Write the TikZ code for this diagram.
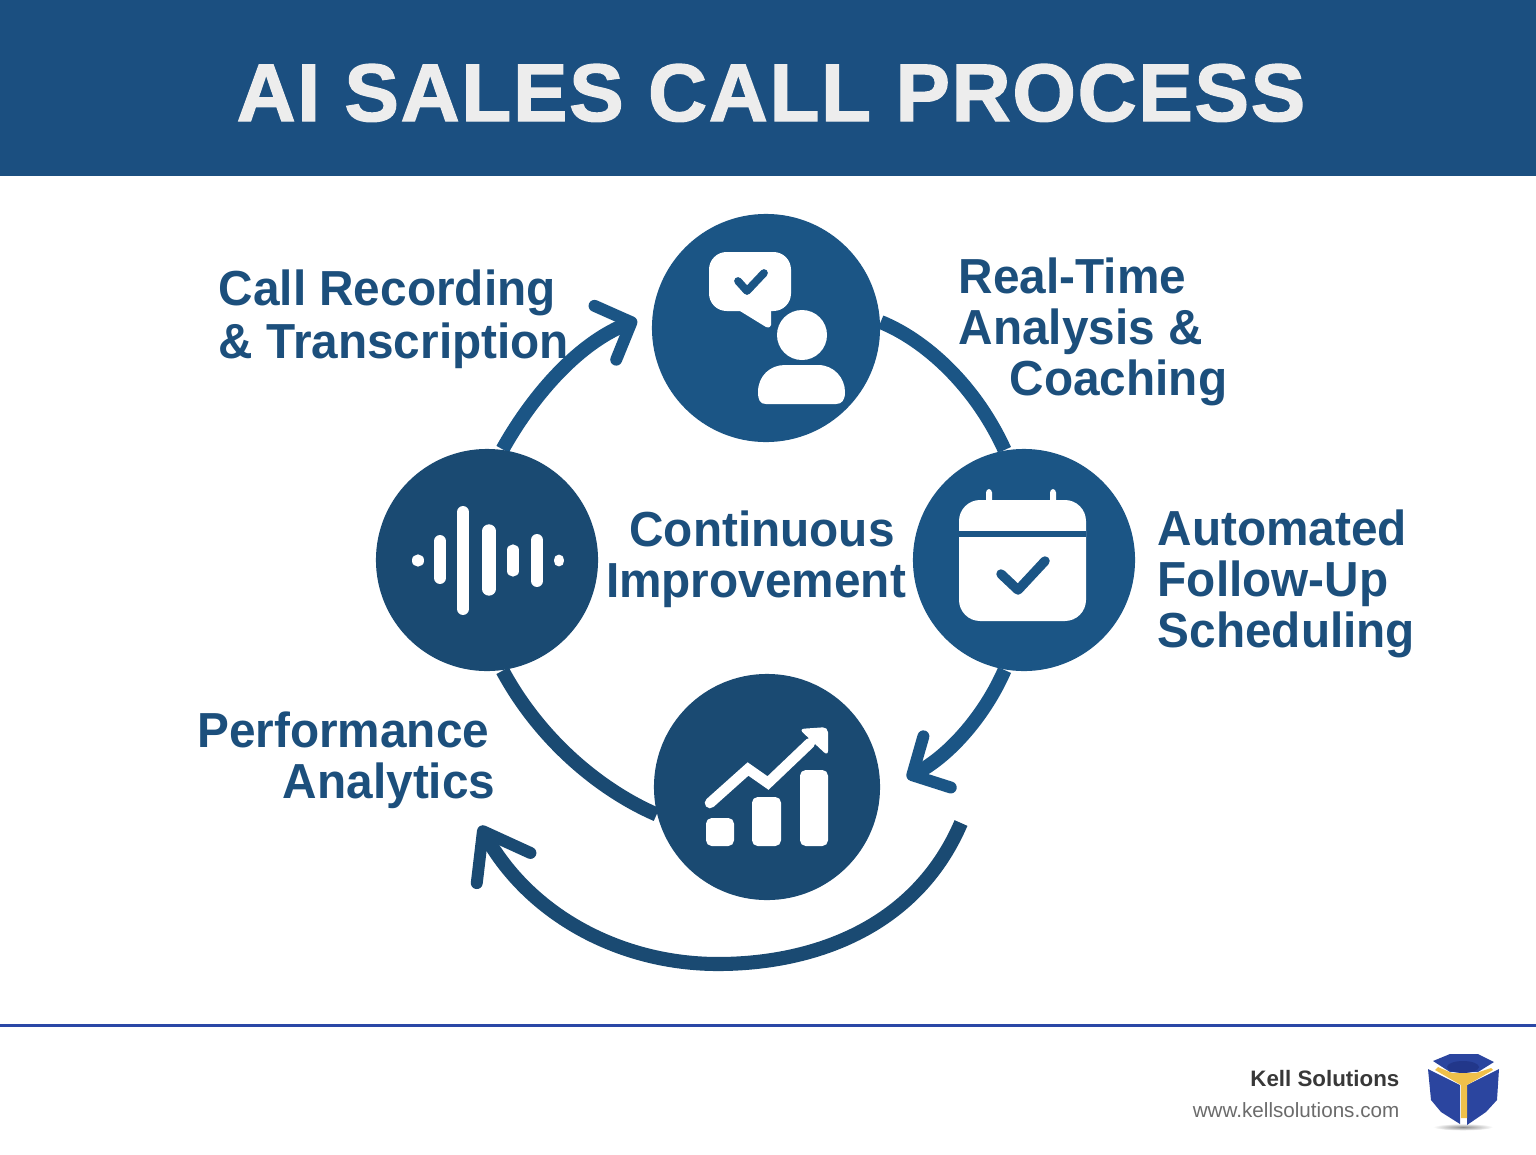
\documentclass[tikz,border=0pt]{standalone}
\usepackage{fontspec}
\setmainfont{Liberation Sans}
\newfontfamily\titlefont[LetterSpace=2.2,FakeBold=1.7]{Liberation Sans}
\newfontfamily\labelfont[FakeStretch=.97]{Liberation Sans}
\usetikzlibrary{arrows.meta,backgrounds}
\definecolor{bandblue}{HTML}{1B4F80}
\definecolor{circblue}{HTML}{1B5585}
\definecolor{circdark}{HTML}{1A4A72}
\definecolor{labelblue}{HTML}{1C4F7C}
\definecolor{rulblue}{HTML}{2A47A6}
\definecolor{cubeblue}{HTML}{2B459F}
\definecolor{cubedark}{HTML}{22378A}
\definecolor{cubegold}{HTML}{EFC04A}
\tikzset{
	stepcirc/.style={circle,inner sep=0pt},
	ring/.style={line width=4pt},
	ringarrow/.style 2 args={ring,-{Straight Barb[length=#1,width=#2,line width=3.4pt,round]}},
	steplabel/.style={font=\labelfont\bfseries\fontsize{14pt}{14.6pt}\selectfont,text=labelblue,inner sep=0pt},
	iconbar/.style={fill=white,rounded corners=1.6pt},
	iconline/.style={line width=2.2pt,line cap=round,line join=round},
}
\begin{document}
\begin{tikzpicture}[x=0.01cm,y=-0.01cm]
	\useasboundingbox (0,0) rectangle (1536,1154);
	% banner
	\fill[bandblue] (0,0) rectangle (1536,176);
	\node[font=\titlefont\bfseries\fontsize{23.2pt}{25pt}\selectfont,text=white!93!black,anchor=base,inner sep=0pt] (title) at (771,121) {AI SALES CALL PROCESS};

	% step circles
	\node[stepcirc,fill=circblue,minimum size=2.28cm] (talk) at (766,328) {};
	\node[stepcirc,fill=circblue,minimum size=2.22cm] (cal) at (1024,560) {};
	\node[stepcirc,fill=circdark,minimum size=2.26cm] (chart) at (767,787) {};
	\node[stepcirc,fill=circdark,minimum size=2.22cm] (wave) at (487,560) {};

	% ring
	\coordinate (tipa) at (907,778);
	\coordinate (tipb) at (480,826);
	\coordinate (tipc) at (637,320);
	\coordinate (loopa) at (961,823);
	\begin{pgfonlayer}{background}
	\draw[ring,circblue] (talk.3) .. controls (925,340) and (975,385) .. (cal.100);
	\draw[ringarrow={8pt}{16.5pt},circblue] (cal.-100) .. controls (985,715) and (950,755) .. (tipa);
	\draw[ringarrow={12pt}{17.5pt},circdark] (loopa) .. controls (915,930) and (810,964) .. (718,964) .. controls (620,964) and (530,915) .. (tipb);
	\draw[ring,circdark] (wave.-82) .. controls (540,740) and (600,790) .. (chart.194);
	\draw[ringarrow={8pt}{16.5pt},circblue] (wave.82) .. controls (530,400) and (575,345) .. (tipc);
	\end{pgfonlayer}

	% talk icon
	\fill[white,rounded corners=5pt] (709,252) rectangle (791,311);
	\fill[white] (740,311) -- (766,327) .. controls (769,328) and (771,327) .. (771,325) -- (771,305) -- cycle;
	\draw[circblue,iconline] (738,281) -- (747,291) -- (764,273);
	\fill[white] (802,335) circle [radius=25];
	\fill[white] (766,404) .. controls (760,404) and (758,400) .. (758,392) .. controls (758,376) and (770,365) .. (785,365) -- (818,365) .. controls (834,365) and (845,378) .. (845,392) .. controls (845,400) and (842,404) .. (836,404) -- cycle;

	% calendar icon
	\fill[white,rounded corners=6pt] (959,500) rectangle (1086,621);
	\fill[white,rounded corners=1pt] (986,489) rectangle (992,505);
	\fill[white,rounded corners=1pt] (1050,489) rectangle (1056,505);
	\fill[circblue] (959,531) rectangle (1086,537);
	\draw[circblue,iconline,line width=2.7pt] (1001,574) -- (1018,590) -- (1045,561);

	% chart icon
	\fill[iconbar] (706,818) rectangle (734,846);
	\fill[iconbar] (752,797) rectangle (781,846);
	\fill[iconbar] (800,770) rectangle (828,846);
	\draw[white,line width=3pt,line cap=round,line join=miter] (710,803) -- (748,769) -- (768,783) -- (810,743);
	\fill[white,rounded corners=1.5pt] (799,729) -- (828,727) -- (828,756) -- cycle;

	% wave icon
	\foreach \px/\pha/\phb/\pw in {418/560/561/3.2,440/541/578/3.4,463/512/609/3.4,489/531/589/3.8,513/550/571/3.2,537/540/581/3.4,559/560/561/3.1}
		\draw[white,line width=\pw pt,line cap=round] (\px,\pha) -- (\px,\phb);

	% step labels
	\node[steplabel,anchor=base west] (lblrec) at (218,305) {Call Recording};
	\node[steplabel,anchor=base west] (lbltrans) at (218,358) {\& Transcription};
	\node[steplabel,anchor=base west] (lblreal) at (958,293) {Real-Time};
	\node[steplabel,anchor=base west] (lblanal) at (958,344) {Analysis \&};
	\node[steplabel,anchor=base west] (lblcoach) at (1009,395) {Coaching};
	\node[steplabel,anchor=base west] (lblauto) at (1157,545) {Automated};
	\node[steplabel,anchor=base west] (lblfoll) at (1157,596) {Follow-Up};
	\node[steplabel,anchor=base west] (lblsched) at (1157,647) {Scheduling};
	\node[steplabel,anchor=base east] (lblperf) at (490,747) {Performance};
	\node[steplabel,anchor=base east] (lblana) at (496,798) {Analytics};
	\node[steplabel,anchor=base] (lblcont) at (762,546) {Continuous};
	\node[steplabel,anchor=base] (lblimpr) at (756,597) {Improvement};

	% footer
	\draw[rulblue,line width=.85pt] (0,1025) -- (1536,1025);
	\node[font=\bfseries\fontsize{6.35pt}{7pt}\selectfont,text=black!78,anchor=base east,inner sep=0pt] (brand) at (1400,1086) {Kell Solutions};
	\node[font=\fontsize{5.87pt}{7pt}\selectfont,text=black!58,anchor=base east,inner sep=0pt] (site) at (1400,1117) {www.kellsolutions.com};

	% logo
	\shade[inner color=black!45,outer color=white] (1463,1127) ellipse [x radius=30,y radius=3.5];
	\fill[cubeblue] (1428,1069) -- (1460,1085) -- (1460,1124) -- (1441,1112) -- (1431,1100) -- cycle;
	\fill[cubeblue] (1499,1069) -- (1467,1085) -- (1467,1125) -- (1486,1112) -- (1497,1100) -- cycle;
	\fill[cubeblue] (1433,1061) -- (1450,1054) -- (1478,1054) -- (1494,1062) -- (1478,1072) -- (1450,1072) -- cycle;
	\fill[cubedark] (1463,1067) ellipse [x radius=16,y radius=6];
	\fill[cubegold] (1438,1067) -- (1452,1073) -- (1476,1073) -- (1491,1068) -- (1493,1070) -- (1467,1085) -- (1467,1118) -- (1461,1118) -- (1461,1085) -- (1435,1070) -- cycle;
\end{tikzpicture}
\end{document}
